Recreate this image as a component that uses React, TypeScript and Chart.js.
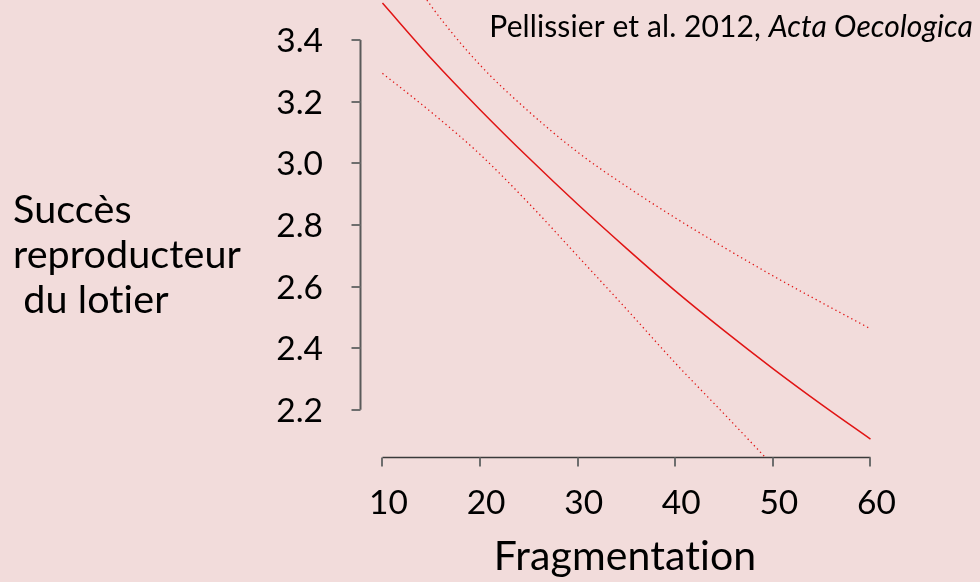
import React, { useEffect, useRef } from "react";
import { Chart, registerables } from "chart.js";

Chart.register(...registerables);

const fragmentation = [10, 15, 20, 25, 30, 35, 40, 45, 50, 55, 60];
const fitted = [3.52, 3.34, 3.174, 3.017, 2.867, 2.724, 2.586, 2.457, 2.334, 2.217, 2.105];
const upperCI = [3.75, 3.51, 3.319, 3.168, 3.036, 2.925, 2.823, 2.727, 2.635, 2.548, 2.463];
const lowerCI = [3.292, 3.166, 3.029, 2.87, 2.699, 2.527, 2.352, 2.187, 2.02, null, null];

const xTicks = [10, 20, 30, 40, 50, 60];
const yTicks = [2.2, 2.4, 2.6, 2.8, 3.0, 3.2, 3.4];
const yTitleLines = ["Succès", "reproducteur", " du lotier"];
const xTitle = "Fragmentation";
const citationPlain = "Pellissier et al. 2012, ";
const citationItalic = "Acta Oecologica";

const BG = "rgb(242,220,219)";
const RED = "rgb(225,20,20)";
const FONT = "Lato, 'Open Sans', sans-serif";

const pts = (arr: (number | null)[]) =>
  fragmentation.map((x, i) => ({ x, y: arr[i] }));

const overlay = {
  id: "overlay",
  beforeDraw(chart: any) {
    const { ctx, width, height } = chart;
    ctx.save();
    ctx.fillStyle = BG;
    ctx.fillRect(0, 0, width, height);
    ctx.restore();
  },
  beforeDatasetsDraw(chart: any) {
    const { ctx } = chart;
    const xs = chart.scales.x;
    const ys = chart.scales.y;
    ctx.save();
    // y axis
    const yAxisX = chart.chartArea.left + 0.5;
    const yTop = ys.getPixelForValue(yTicks[yTicks.length - 1]);
    const yBot = ys.getPixelForValue(yTicks[0]);
    ctx.strokeStyle = "#5a5a5a";
    ctx.lineWidth = 2;
    ctx.beginPath();
    ctx.moveTo(yAxisX, yTop);
    ctx.lineTo(yAxisX, yBot);
    ctx.stroke();
    ctx.strokeStyle = "#6e6e6e";
    ctx.lineWidth = 2;
    yTicks.forEach((v) => {
      const py = Math.round(ys.getPixelForValue(v));
      ctx.beginPath();
      ctx.moveTo(yAxisX - 9, py);
      ctx.lineTo(yAxisX, py);
      ctx.stroke();
    });
    // x axis
    const xAxisY = chart.chartArea.bottom + 0.5;
    const xL = xs.getPixelForValue(xTicks[0]);
    const xR = xs.getPixelForValue(xTicks[xTicks.length - 1]);
    ctx.strokeStyle = "#3a3a3a";
    ctx.lineWidth = 1.5;
    ctx.beginPath();
    ctx.moveTo(xL, xAxisY);
    ctx.lineTo(xR, xAxisY);
    ctx.stroke();
    ctx.strokeStyle = "#6e6e6e";
    ctx.lineWidth = 2;
    xTicks.forEach((v) => {
      const px = Math.round(xs.getPixelForValue(v));
      ctx.beginPath();
      ctx.moveTo(px, xAxisY);
      ctx.lineTo(px, xAxisY + 9);
      ctx.stroke();
    });

    // tick labels
    ctx.fillStyle = "#000";
    ctx.font = `33.5px ${FONT}`;
    ctx.textBaseline = "alphabetic";
    ctx.textAlign = "right";
    yTicks.forEach((v) => {
      const py = ys.getPixelForValue(v);
      ctx.fillText(v.toFixed(1), 323, py + 12);
    });
    ctx.textAlign = "center";
    xTicks.forEach((v) => {
      const px = xs.getPixelForValue(v);
      ctx.fillText(String(v), px + 6, 514);
    });

    // axis titles (no ligatures, like the original)
    if ("letterSpacing" in ctx) (ctx as any).letterSpacing = "0.1px";
    ctx.font = `41px ${FONT}`;
    ctx.textAlign = "center";
    ctx.fillText(xTitle, 625, 570);
    ctx.font = `39.5px ${FONT}`;
    ctx.textAlign = "left";
    yTitleLines.forEach((t, i) => {
      ctx.fillText(t, 13, 223 + i * 45);
    });

    // citation
    ctx.font = `italic 30px ${FONT}`;
    const wI = ctx.measureText(citationItalic).width;
    ctx.font = `30px ${FONT}`;
    const wP = ctx.measureText(citationPlain).width;
    const right = 973;
    ctx.textAlign = "left";
    ctx.fillText(citationPlain, right - wI - wP, 37);
    ctx.font = `italic 30px ${FONT}`;
    ctx.fillText(citationItalic, right - wI, 37);
    ctx.restore();
  },
};

export default function App() {
  const ref = useRef<HTMLCanvasElement | null>(null);
  useEffect(() => {
    document.body.style.margin = "0";
    document.body.style.background = BG;
    let chart: Chart | null = null;
    let cancelled = false;
    const make = () => {
      if (cancelled || !ref.current) return;
      chart = new Chart(ref.current, {
        type: "line",
        data: {
          datasets: [
            {
              data: pts(fitted) as any,
              borderColor: RED,
              borderWidth: 1.5,
              pointRadius: 0,
              cubicInterpolationMode: "monotone",
              fill: false,
            },
            {
              data: pts(upperCI) as any,
              borderColor: RED,
              borderWidth: 1.3,
              borderDash: [1.3, 3.2],
              pointRadius: 0,
              cubicInterpolationMode: "monotone",
              fill: false,
            },
            {
              data: pts(lowerCI) as any,
              borderColor: RED,
              borderWidth: 1.3,
              borderDash: [1.3, 3.2],
              pointRadius: 0,
              cubicInterpolationMode: "monotone",
              fill: false,
            },
          ],
        },
        options: {
          animation: false,
          responsive: false,
          devicePixelRatio: 1,
          layout: { padding: { left: 360, right: 90, top: 0, bottom: 125 } },
          plugins: { legend: { display: false }, tooltip: { enabled: false }, title: { display: false } },
          scales: {
            x: { type: "linear", min: 7.7, max: 62, display: false },
            y: { type: "linear", min: 2.047, max: 3.53, display: false },
          },
        },
        plugins: [overlay],
      });
    };
    const fonts: any = (document as any).fonts;
    if (fonts && fonts.load) {
      Promise.all([
        fonts.load(`33px Lato`),
        fonts.load(`italic 30px Lato`),
      ]).then(make, make);
    } else make();
    return () => {
      cancelled = true;
      if (chart) chart.destroy();
    };
  }, []);
  return (
    <div style={{ position: "fixed", left: 0, top: 0, width: 980, height: 582, background: BG }}>
      <canvas ref={ref} width={980} height={582} style={{ width: 980, height: 582, display: "block" }} />
    </div>
  );
}
